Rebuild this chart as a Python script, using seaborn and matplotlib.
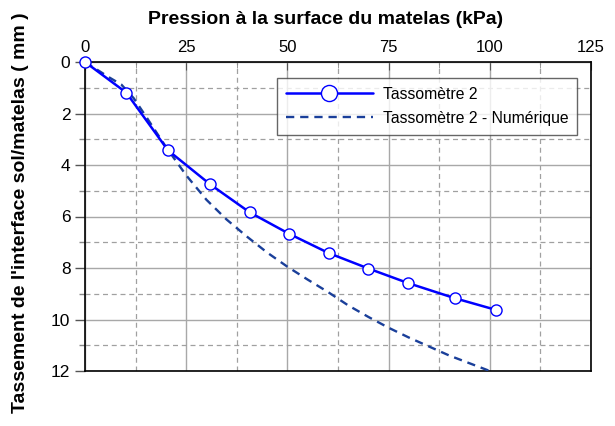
import matplotlib
matplotlib.use("Agg")
import matplotlib.pyplot as plt
import seaborn as sns
import pandas as pd
from matplotlib.ticker import MultipleLocator

# Data
pression_mesure = [0, 10.2, 20.5, 30.9, 40.7, 50.4, 60.2, 70.0, 79.9, 91.5, 101.6]
tassement_mesure = [0, 1.19, 3.43, 4.75, 5.84, 6.67, 7.42, 8.02, 8.59, 9.18, 9.63]

pression_num = [0, 3, 6, 9, 12, 15, 20, 25, 30, 35, 40, 45, 50, 55, 60, 65, 70,
                75, 80, 85, 90, 95, 100]
tassement_num = [0, 0.3, 0.6, 0.88, 1.4, 2.1, 3.3, 4.4, 5.35, 6.12, 6.78, 7.4,
                 7.95, 8.45, 8.93, 9.45, 9.9, 10.32, 10.7, 11.05, 11.4, 11.7, 12.0]

lab_mesure = "Tassomètre 2"
lab_num = "Tassomètre 2 - Numérique"

sns.set_style("white")
plt.rcParams['font.family'] = ['Liberation Sans', 'DejaVu Sans']
plt.rcParams['text.color'] = 'black'
plt.rcParams['axes.labelcolor'] = 'black'
plt.rcParams['xtick.color'] = 'black'
plt.rcParams['ytick.color'] = 'black'

W, H = 615, 426
fig = plt.figure(figsize=(W / 100, H / 100), dpi=100)
ax = fig.add_axes([85 / W, 1 - 371 / H, (591 - 85) / W, (371 - 62) / H])

df_m = pd.DataFrame({"x": pression_mesure, "y": tassement_mesure})
df_n = pd.DataFrame({"x": pression_num, "y": tassement_num})

sns.lineplot(data=df_m, x="x", y="y", ax=ax, color="#0000ff", lw=1.8,
             marker="o", markersize=8, markerfacecolor="white",
             markeredgecolor="#0000ff", markeredgewidth=1.0, sort=False,
             label=lab_mesure, zorder=4, clip_on=False)
sns.lineplot(data=df_n, x="x", y="y", ax=ax, color="#1a3f9a", lw=1.7,
             linestyle=(0, (3.5, 2.5)), sort=False, label=lab_num, zorder=3)

ax.set_xlim(0, 125)
ax.set_ylim(12, 0)
ax.xaxis.set_major_locator(MultipleLocator(25))
ax.xaxis.set_minor_locator(MultipleLocator(12.5))
ax.yaxis.set_major_locator(MultipleLocator(2))
ax.yaxis.set_minor_locator(MultipleLocator(1))
ax.grid(which="major", color="#a8a8a8", lw=1.0, ls="-")
ax.grid(which="minor", color="#a0a0a0", lw=0.9, ls=(0, (4, 3)))
ax.set_axisbelow(True)

ax.xaxis.tick_top()
ax.xaxis.set_label_position("top")
ax.tick_params(axis="x", which="both", top=True, bottom=False,
               labeltop=True, labelbottom=False)
ax.tick_params(axis="y", which="both", left=True, right=False)
ax.tick_params(axis="x", which="major", direction="in", length=6,
               color="#555555", labelsize=12, pad=5, labelcolor="black")
ax.tick_params(axis="x", which="minor", direction="in", length=4,
               color="#888888")
ax.tick_params(axis="y", which="major", direction="out", length=7.5,
               width=1.0, color="#555555", labelsize=12.5, pad=3,
               labelcolor="black")
ax.tick_params(axis="y", which="minor", direction="out", length=4,
               width=1.0, color="#888888")
for s in ax.spines.values():
    s.set_visible(True)
    s.set_color("black")
    s.set_linewidth(1.2)

ax.set_xlabel("")
ax.set_ylabel("")
fig.text(326 / W, 1 - 20 / H, "Pression à la surface du matelas (kPa)",
         fontsize=14, fontweight="bold", ha="center", va="center",
         color="black")
fig.text(21 / W, 1 - 213 / H, "Tassement de l'interface sol/matelas ( mm )",
         fontsize=14, fontweight="bold", ha="center", va="center",
         rotation=90, color="black")

leg = ax.legend(loc="upper right", bbox_to_anchor=(0.988, 0.974), fontsize=11.3,
                frameon=True, fancybox=False, edgecolor="#404040",
                handlelength=5.6, markerscale=1.45, borderpad=0.55,
                labelspacing=0.6, handletextpad=0.6)
leg.get_frame().set_linewidth(1.0)
for t in leg.get_texts():
    t.set_color("black")

fig.savefig("out.png", dpi=100)
